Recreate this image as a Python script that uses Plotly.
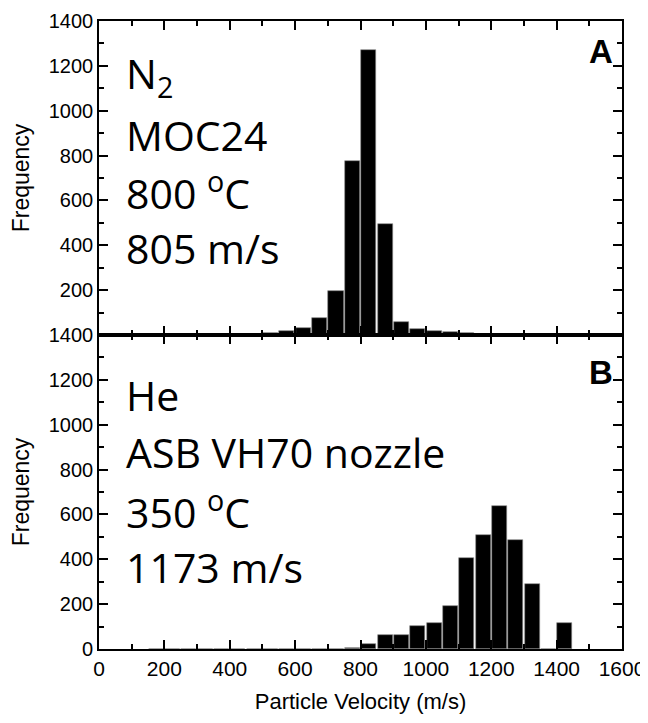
import plotly.graph_objects as go
from plotly.subplots import make_subplots

# Bin centers (m/s), bin width 50
bin_centers = [175, 225, 275, 325, 375, 425, 475, 525, 575, 625, 675, 725, 775, 825, 875,
               925, 975, 1025, 1075, 1125, 1175, 1225, 1275, 1325, 1375, 1425]
bin_width = 50
# Panel A: N2, MOC24
counts_a = [2, 6, 0, 0, 0, 0, 2, 7, 18, 31, 77, 197, 777, 1270, 496,
            58, 28, 19, 12, 7, 2, 0, 0, 0, 0, 0]
# Panel B: He, ASB VH70
counts_b = [0, 0, 0, 0, 0, 0, 0, 0, 0, 0, 0, 0, 5, 24, 64,
            62, 104, 117, 193, 407, 509, 638, 487, 292, 0, 114]

x_tickvals = [0, 200, 400, 600, 800, 1000, 1200, 1400, 1600]
x_ticktext = ["0", "200", "400", "600", "800", "1000", "1200", "1400", "1600"]
y_tickvals_a = [200, 400, 600, 800, 1000, 1200, 1400]
y_ticktext_a = ["200", "400", "600", "800", "1000", "1200", "1400"]
y_tickvals_b = [0, 200, 400, 600, 800, 1000, 1200, 1400]
y_ticktext_b = ["0", "200", "400", "600", "800", "1000", "1200", "1400"]

text_a = ["N<sub>2</sub>", "MOC24", "800 <sup>o</sup>C", "805 m/s"]
text_b = ["He", "ASB VH70 nozzle", "350 <sup>o</sup>C", "1173 m/s"]

SANS = "Liberation Sans, Arial, sans-serif"

fig = make_subplots(rows=2, cols=1, vertical_spacing=0)

bar_style = dict(marker=dict(color="black", line=dict(color="#8a8a8a", width=0.6)),
                 width=[bin_width * 0.92] * len(bin_centers), showlegend=False)
fig.add_trace(go.Bar(x=bin_centers, y=counts_a, **bar_style), row=1, col=1)
fig.add_trace(go.Bar(x=bin_centers, y=counts_b, **bar_style), row=2, col=1)

minor = dict(ticks="inside", ticklen=5, tickwidth=1.5, tickcolor="black",
             dtick=100, tick0=0, showgrid=False)
axis_common = dict(showline=True, linecolor="black", linewidth=1.6, mirror="allticks",
                   ticks="inside", ticklen=9, tickwidth=1.5, tickcolor="black",
                   showgrid=False, zeroline=False, automargin=False,
                   ticklabeloverflow="allow", minor=minor)

xcommon = dict(axis_common, range=[0, 1600], tickvals=x_tickvals, ticktext=x_ticktext)
ycommon = dict(axis_common, range=[0, 1400],
               tickfont=dict(family=SANS, size=20, color="black"),
               title=dict(text="Frequency", font=dict(family=SANS, size=23, color="black")))

fig.update_xaxes(xcommon, showticklabels=False, row=1, col=1)
fig.update_xaxes(xcommon, showticklabels=True,
                 tickfont=dict(family=SANS, size=21, color="black"),
                 title=dict(text="Particle Velocity (m/s)",
                            font=dict(family=SANS, size=22, color="black")),
                 row=2, col=1)
fig.update_yaxes(ycommon, tickvals=y_tickvals_a, ticktext=y_ticktext_a, row=1, col=1)
fig.update_yaxes(ycommon, tickvals=y_tickvals_b, ticktext=y_ticktext_b, row=2, col=1)

annos = []
ys_a = [0.9125, 0.8181, 0.7290, 0.6389]
ys_b = [0.4040, 0.3133, 0.2210, 0.1303]
for t, yy in zip(text_a + text_b, ys_a + ys_b):
    annos.append(dict(text=t, x=0.048, y=yy, xref="paper", yref="paper", xanchor="left",
                      yanchor="middle", showarrow=False,
                      font=dict(family="Open Sans, Noto Sans, sans-serif", size=41, color="black")))
for t, yy in (("A", 0.9518), ("B", 0.4396)):
    annos.append(dict(text="<b>" + t + "</b>", x=0.987, y=yy, xref="paper", yref="paper",
                      xanchor="right", yanchor="middle", showarrow=False,
                      font=dict(family=SANS, size=33, color="black")))

# page body has an 8px default margin; margins compensate so the plot area lands
# at x 99..622, y 21..649 in the browser window
fig.update_layout(width=648, height=723, margin=dict(l=91, r=34, t=13, b=82),
                  paper_bgcolor="white", plot_bgcolor="white", bargap=0,
                  annotations=annos)

fig.write_html("out.html")
